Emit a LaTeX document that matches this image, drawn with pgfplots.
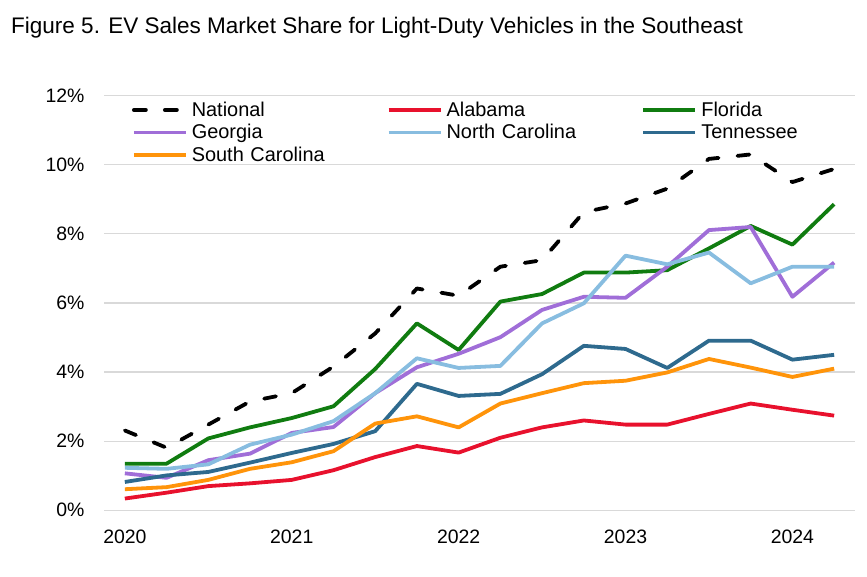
\documentclass[border=0pt]{standalone}
\usepackage{pgfplots}
\pgfplotsset{compat=1.18}
\usepackage{pgfplotstable}
\usepackage{fontspec}
\setmainfont{Liberation Sans}

\definecolor{cNAT}{HTML}{000000}
\definecolor{cAL}{HTML}{E8112D}
\definecolor{cFL}{HTML}{107C10}
\definecolor{cGA}{HTML}{A06ED8}
\definecolor{cNC}{HTML}{88BDE0}
\definecolor{cTN}{HTML}{2E6A8E}
\definecolor{cSC}{HTML}{FF940A}
\definecolor{cGrid}{HTML}{D9D9D9}

\pgfplotstableread{
x nat al fl ga nc tn sc
0 2.31 0.34 1.35 1.07 1.23 0.82 0.61
1 1.81 0.51 1.35 0.94 1.20 1.01 0.67
2 2.48 0.70 2.08 1.45 1.33 1.11 0.88
3 3.15 0.78 2.40 1.64 1.90 1.38 1.20
4 3.39 0.88 2.67 2.24 2.19 1.66 1.39
5 4.16 1.16 3.01 2.41 2.58 1.92 1.71
6 5.12 1.54 4.09 3.39 3.39 2.29 2.51
7 6.42 1.86 5.41 4.14 4.40 3.66 2.72
8 6.21 1.67 4.64 4.53 4.12 3.31 2.40
9 7.05 2.10 6.04 5.01 4.18 3.37 3.09
10 7.24 2.40 6.26 5.80 5.41 3.94 3.39
11 8.63 2.60 6.88 6.18 5.99 4.76 3.68
12 8.88 2.48 6.88 6.15 7.37 4.67 3.75
13 9.31 2.48 6.95 7.05 7.12 4.12 3.99
14 10.17 2.79 7.58 8.11 7.46 4.91 4.38
15 10.30 3.09 8.23 8.20 6.57 4.91 4.13
16 9.50 2.91 7.69 6.18 7.05 4.36 3.86
17 9.88 2.74 8.86 7.17 7.05 4.50 4.10
}\data

\begin{document}
\begin{tikzpicture}
\useasboundingbox (0bp,0bp) rectangle (867bp,577bp);
\node[anchor=base west, inner sep=0pt, font=\fontsize{22.6}{26}\selectfont] at (11bp,543bp)
  {Figure 5. EV Sales Market Share for Light-Duty Vehicles in the Southeast};
\begin{axis}[
  at={(104bp,66.7bp)}, anchor=south west,
  scale only axis, width=751bp, height=414.6bp,
  xmin=-0.5, xmax=17.5, ymin=0, ymax=12,
  xtick={0,4,8,12,16}, xticklabels={2020,2021,2022,2023,2024},
  ytick={0,2,4,6,8,10,12}, yticklabels={0\%,2\%,4\%,6\%,8\%,10\%,12\%},
  /pgf/number format/assume math mode=true,
  axis line style={draw=none},
  major tick length=0pt,
  ymajorgrids, major grid style={color=cGrid, line width=1.2bp},
  tick label style={font=\fontsize{19.5}{23}\selectfont},
  yticklabel style={xshift=-16bp},
  xticklabel style={yshift=-16bp},
  every axis plot/.append style={line width=3.8bp, line join=round},
  legend columns=3,
  legend cell align=left,
  legend style={draw=none, fill=none, at={(0.037,0.990)}, anchor=north west,
    font=\fontsize{20}{23}\selectfont, inner sep=0pt, row sep=2.6bp,
    /tikz/every odd column/.append style={column sep=2bp},
    /tikz/every even column/.append style={text width=193bp, align=left}},
  legend image code/.code={\draw[#1] (0bp,0bp) -- (52bp,0bp);},
  clip=false,
]
\addplot[cNAT, dash pattern=on 12bp off 19bp, line cap=round] table[x=x,y=nat] {\data};
\addlegendentry{National}
\addplot[cAL] table[x=x,y=al] {\data};
\addlegendentry{Alabama}
\addplot[cFL] table[x=x,y=fl] {\data};
\addlegendentry{Florida}
\addplot[cGA] table[x=x,y=ga] {\data};
\addlegendentry{Georgia}
\addplot[cNC] table[x=x,y=nc] {\data};
\addlegendentry{North Carolina}
\addplot[cTN] table[x=x,y=tn] {\data};
\addlegendentry{Tennessee}
\addplot[cSC] table[x=x,y=sc] {\data};
\addlegendentry{South Carolina}
\end{axis}
\end{tikzpicture}
\end{document}
